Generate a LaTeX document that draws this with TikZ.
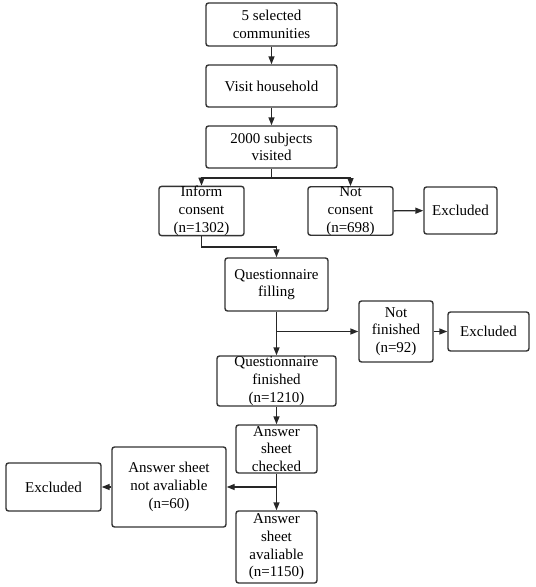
\documentclass[tikz,border=0pt]{standalone}
\usepackage{fontspec}
\setmainfont{Liberation Serif}
\usetikzlibrary{arrows.meta}

\begin{document}
\begin{tikzpicture}
    %defining some styles
    [
        x=1pt, y=-1pt,
        box/.style={rectangle, draw=black!80, line width=1.4pt, rounded corners=2.5pt,
            align=center, inner sep=0pt,
            font=\fontsize{15}{17.7}\selectfont},
        flow/.style={draw=black!85, line width=1.4pt, -{Triangle[length=8pt, width=6pt]}},
        link/.style={draw=black!85, line width=1.4pt},
    ]
    \useasboundingbox (0,0) rectangle (536,587);

    \node (comm) at (271.5,24.5) [box, minimum width=131pt, minimum height=43pt] {5 selected\\communities};
    \node (visit) at (271.5,86) [box, minimum width=131pt, minimum height=42pt] {Visit household};
    \node (subj) at (271.5,147) [box, minimum width=131pt, minimum height=42pt] {2000 subjects\\visited};
    \node (inform) at (201.5,211) [box, minimum width=85pt, minimum height=48pt] {Inform\\consent\\(n=1302)};
    \node (notcons) at (350.5,211) [box, minimum width=85pt, minimum height=48pt] {Not\\consent\\(n=698)};
    \node (excl1) at (460.5,210.5) [box, minimum width=73pt, minimum height=47pt] {Excluded};
    \node (filling) at (276.5,284.5) [box, minimum width=103pt, minimum height=53pt] {Questionnaire\\filling};
    \node (notfin) at (396,331.5) [box, minimum width=74pt, minimum height=61pt] {Not\\finished\\(n=92)};
    \node (excl2) at (488.5,331.5) [box, minimum width=81pt, minimum height=39pt] {Excluded};
    \node (finished) at (276.5,381) [box, minimum width=119pt, minimum height=50pt] {Questionnaire\\finished\\(n=1210)};
    \node (checked) at (276.5,449) [box, minimum width=81pt, minimum height=48pt] {Answer\\sheet\\checked};
    \node (notavail) at (169,487) [box, minimum width=114pt, minimum height=80pt] {Answer sheet\\not avaliable\\(n=60)};
    \node (excl3) at (53.5,487) [box, minimum width=95pt, minimum height=48pt] {Excluded};
    \node (avail) at (276.5,547) [box, minimum width=81pt, minimum height=72pt] {Answer\\sheet\\avaliable\\(n=1150)};

    % split and bend points
    \coordinate (sp1) at (271.5,178);
    \coordinate (bend) at (276.5,247);
    \coordinate (sp2) at (276.5,331.5);
    \coordinate (sp3) at (276.5,487);

    \draw[flow] (comm) -- (visit);
    \draw[flow] (visit) -- (subj);
    \draw[link] (subj) -- (sp1);
    \draw[flow] (sp1) -| (inform.north);
    \draw[flow] (sp1) -| (notcons.north);
    \draw[flow] (notcons) -- (excl1);
    \draw[flow] (inform.south) -- (inform.south |- bend) -| (filling.north);
    \draw[flow] (filling) -- (finished);
    \draw[flow] (sp2) -- (notfin);
    \draw[flow] (notfin) -- (excl2);
    \draw[flow] (finished) -- (checked);
    \draw[flow] (checked) -- (avail);
    \draw[flow] (sp3) -- (notavail);
    \draw[flow] (notavail) -- (excl3);
\end{tikzpicture}
\end{document}
